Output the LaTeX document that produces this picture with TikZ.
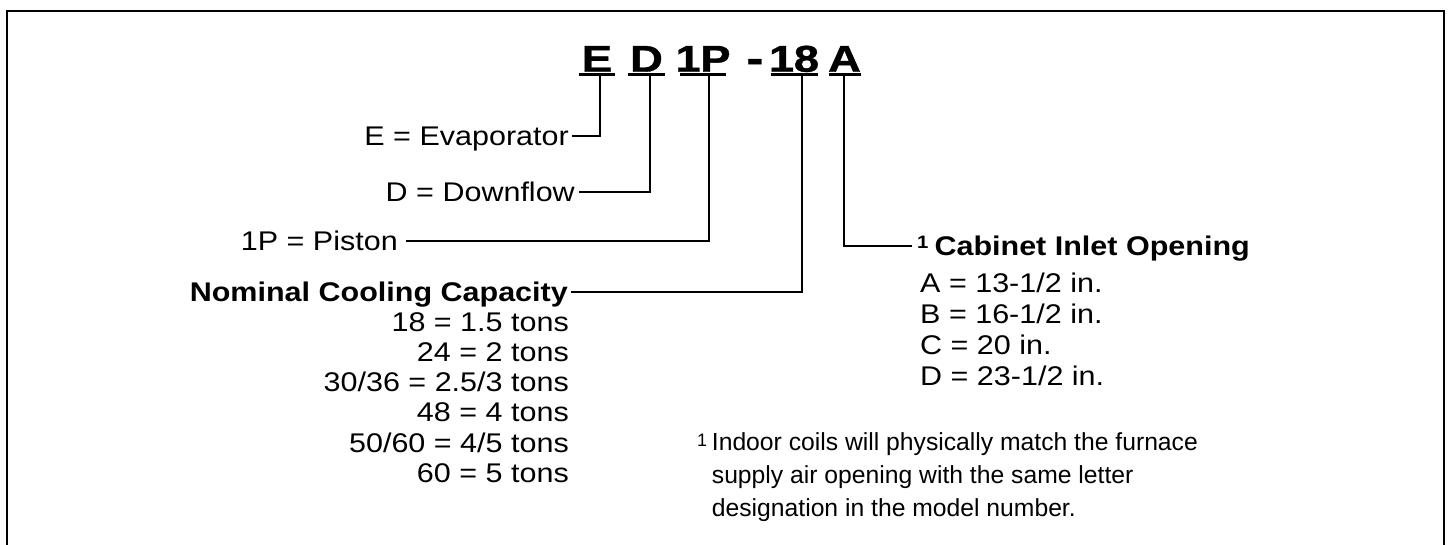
\documentclass[tikz,border=0pt]{standalone}
\usepackage{fontspec}
\newfontfamily\regfont[FakeStretch=1.13]{Liberation Sans}
\newfontfamily\notefont{Liberation Sans}
\newfontfamily\titlefont[FakeStretch=1.22,FakeBold=1]{Liberation Sans}
\begin{document}
\begin{tikzpicture}[x=1pt,y=-1pt,
  lbl/.style={inner sep=0pt, text height=19.3pt, text depth=0pt,
    font=\regfont\fontsize{27}{31}\selectfont},
  hdr/.style={inner sep=0pt, text height=19.3pt, text depth=0pt,
    font=\regfont\bfseries\fontsize{27}{31}\selectfont},
  row/.style={inner sep=0pt, font=\regfont\fontsize{27}{31}\selectfont},
  note/.style={inner sep=0pt, anchor=base west, font=\notefont\fontsize{24.7}{30}\selectfont},
  ttl/.style={inner sep=0pt, anchor=base, font=\titlefont\bfseries\fontsize{37.3}{40}\selectfont},
  conn/.style={line width=2pt},
  uline/.style={line width=2.5pt},
  frame/.style={line width=2.4pt}]
\useasboundingbox (0,0) rectangle (1450,544);
\draw[frame] (7,560) -- (7,11) -- (1444,11) -- (1444,560);

% title
\node[ttl] (tE) at (597,71.7) {E};
\node[ttl] (tD) at (646.5,71.7) {D};
\node[ttl] (tP) at (703,71.7) {1\kern-0.5pt P};
\node[ttl, font=\titlefont\bfseries\fontsize{42}{44}\selectfont] (tM) at (755,72.5) {-};
\node[ttl] (t18) at (794,71.7) {1\kern-0.5pt 8};
\node[ttl] (tA) at (844.5,71.7) {A};
\draw[uline] ([xshift=-18pt,yshift=-2.6pt]tE.base) -- ([xshift=18pt,yshift=-2.6pt]tE.base);
\draw[uline] ([xshift=-18.5pt,yshift=-2.6pt]tD.base) -- ([xshift=18.5pt,yshift=-2.6pt]tD.base);
\draw[uline] ([xshift=-23pt,yshift=-2.6pt]tP.base) -- ([xshift=23pt,yshift=-2.6pt]tP.base);
\draw[uline] ([xshift=-23.5pt,yshift=-2.6pt]t18.base) -- ([xshift=23.5pt,yshift=-2.6pt]t18.base);
\draw[uline] ([xshift=-16pt,yshift=-2.6pt]tA.base) -- ([xshift=16pt,yshift=-2.6pt]tA.base);

\coordinate (uE) at (600,74);
\coordinate (uD) at (650,74);
\coordinate (uP) at (709.3,74);
\coordinate (u18) at (801.7,74);
\coordinate (uA) at (844,74);

% left labels
\node[lbl, anchor=east] (evap) at (569,136) {E = Evaporator};
\node[lbl, anchor=east] (down) at (575,192) {D = Downflow};
\node[lbl, anchor=east] (piston) at (398,241) {1P = Piston};
\node[hdr, anchor=east] (nom) at (568,292) {Nominal Cooling Capacity};

\node[row, anchor=base east] (c1) at (569,331) {18 = 1.5 tons};
\node[row, anchor=base east] (c2) at (569,361.3) {24 = 2 tons};
\node[row, anchor=base east] (c3) at (569,391.6) {30/36 = 2.5/3 tons};
\node[row, anchor=base east] (c4) at (569,421.9) {48 = 4 tons};
\node[row, anchor=base east] (c5) at (569,452.2) {50/60 = 4/5 tons};
\node[row, anchor=base east] (c6) at (569,482.5) {60 = 5 tons};

% right block
\node[hdr, anchor=west] (cab) at (917,246) {\raisebox{7.5pt}{\fontsize{18}{18}\selectfont 1}\hspace{6pt}Cabinet Inlet Opening};
\node[row, anchor=base west] (r1) at (920,292) {A = 13-1/2 in.};
\node[row, anchor=base west] (r2) at (920,323) {B = 16-1/2 in.};
\node[row, anchor=base west] (r3) at (920,354) {C = 20 in.};
\node[row, anchor=base west] (r4) at (920,385) {D = 23-1/2 in.};

% footnote
\node[note, font=\notefont\fontsize{18}{18}\selectfont] (fnmark) at (697,446) {1};
\node[note] (fn1) at (711.7,450) {Indoor coils will physically match the furnace};
\node[note] (fn2) at (711.7,483) {supply air opening with the same letter};
\node[note] (fn3) at (711.7,516) {designation in the model number.};

% connectors
\draw[conn] ([xshift=3pt]evap.east) -| (uE);
\draw[conn] ([xshift=4pt]down.east) -| (uD);
\draw[conn] ([xshift=8pt]piston.east) -| (uP);
\draw[conn] ([xshift=3pt]nom.east) -| (u18);
\draw[conn] ([xshift=-5pt]cab.west) -| (uA);
\end{tikzpicture}
\end{document}
